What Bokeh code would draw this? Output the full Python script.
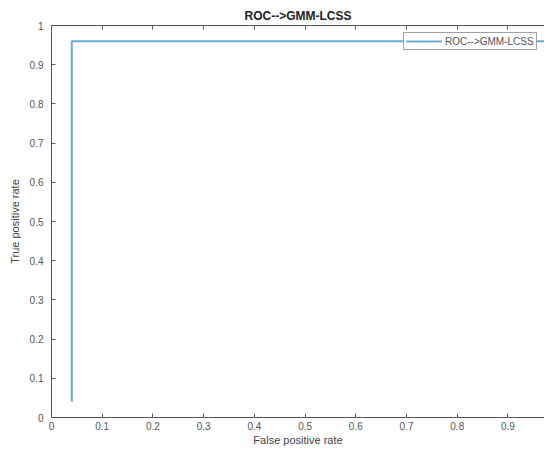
from bokeh.plotting import figure
from bokeh.models import LinearAxis, FixedTicker, CustomJSTickFormatter, Range1d, Legend, LegendItem
from bokeh.embed import file_html
from bokeh.resources import INLINE

# data
fpr = [0.04, 0.04, 1.0]
tpr = [0.04, 0.96, 0.96]
series_name = "ROC-->GMM-LCSS"
title_text = "ROC-->GMM-LCSS"
x_label = "False positive rate"
y_label = "True positive rate"
x_ticks = [0, 0.1, 0.2, 0.3, 0.4, 0.5, 0.6, 0.7, 0.8, 0.9, 1.0]
y_ticks = [0, 0.1, 0.2, 0.3, 0.4, 0.5, 0.6, 0.7, 0.8, 0.9, 1.0]

FONT = "Liberation Sans"
p = figure(width=544, height=448, output_backend="svg", toolbar_location=None,
           x_range=Range1d(0, 0.972), y_range=Range1d(0, 1),
           min_border_left=51, min_border_right=0, min_border_top=25, min_border_bottom=28,
           x_axis_location=None, y_axis_location=None)
p.title.text = title_text
p.title.align = "center"
p.title.text_font = FONT
p.title.text_font_size = "12px"
p.title.text_font_style = "bold"
p.title.text_color = "#222222"
p.title.standoff = 6
p.outline_line_color = None
p.xgrid.grid_line_color = None
p.ygrid.grid_line_color = None
p.background_fill_color = "white"

fmt = CustomJSTickFormatter(code="return String(Math.round(tick*10)/10);")
blank = CustomJSTickFormatter(code="return '';")

def style(ax):
    ax.ticker = FixedTicker(ticks=x_ticks)
    ax.formatter = fmt
    ax.axis_line_color = "#555555"
    ax.axis_line_width = 1
    ax.major_tick_in = 4
    ax.major_tick_out = 0
    ax.major_tick_line_color = "#555555"
    ax.minor_tick_line_color = None
    ax.major_label_text_font = FONT
    ax.major_label_text_font_size = "10px"
    ax.major_label_text_color = "#555555"
    ax.axis_label_text_font = FONT
    ax.axis_label_text_font_size = "11px"
    ax.axis_label_text_font_style = "normal"
    ax.axis_label_text_color = "#444444"

xb = LinearAxis(axis_label=x_label)
style(xb)
xb.major_label_standoff = 4
xb.axis_label_standoff = 1
p.add_layout(xb, "below")

yl = LinearAxis(axis_label=y_label)
style(yl)
yl.ticker = FixedTicker(ticks=y_ticks)
yl.major_label_standoff = 8
yl.axis_label_standoff = 6
p.add_layout(yl, "left")

xt = LinearAxis()
style(xt)
xt.formatter = blank
xt.major_label_standoff = 0
p.add_layout(xt, "above")

r = p.line(fpr, tpr, line_color="#68acd6", line_width=2)

legend = Legend(items=[LegendItem(label=series_name, renderers=[r])],
                location=(352, 367))
legend.label_text_font = FONT
legend.label_text_font_size = "10px"
legend.label_text_color = "#555555"
legend.glyph_width = 36
legend.glyph_height = 12
legend.label_height = 12
legend.label_standoff = 3
legend.padding = 2
legend.margin = 0
legend.spacing = 0
legend.border_line_color = "#444444"
legend.border_line_width = 1
legend.background_fill_color = "white"
p.add_layout(legend, "center")

open("out.html", "w").write(file_html(p, INLINE))
